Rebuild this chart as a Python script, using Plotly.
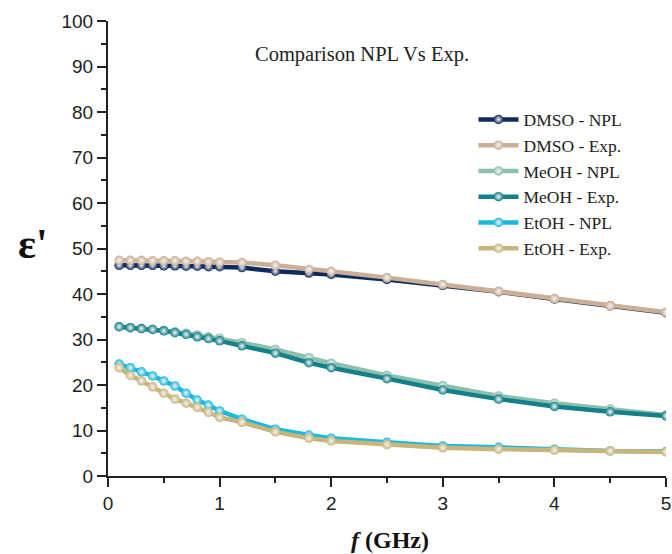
import plotly.graph_objects as go

freq = [0.1, 0.2, 0.3, 0.4, 0.5, 0.6, 0.7, 0.8, 0.9, 1.0,
        1.2, 1.5, 1.8, 2.0, 2.5, 3.0, 3.5, 4.0, 4.5, 5.0]

dmso_npl = [46.3, 46.3, 46.3, 46.3, 46.2, 46.2, 46.1, 46.1, 46.0, 46.0,
            45.8, 45.0, 44.6, 44.3, 43.2, 41.9, 40.5, 38.9, 37.4, 35.9]
dmso_exp = [47.4, 47.4, 47.4, 47.3, 47.3, 47.3, 47.2, 47.2, 47.1, 47.0,
            46.9, 46.3, 45.4, 45.0, 43.6, 42.1, 40.6, 39.0, 37.4, 36.0]
meoh_npl = [32.8, 32.6, 32.4, 32.2, 32.0, 31.7, 31.4, 31.0, 30.6, 30.3,
            29.3, 27.8, 26.0, 24.8, 22.1, 19.9, 17.6, 16.0, 14.7, 13.4]
meoh_exp = [32.8, 32.6, 32.4, 32.2, 31.9, 31.5, 31.1, 30.6, 30.2, 29.7,
            28.6, 27.0, 24.9, 23.8, 21.4, 18.9, 16.9, 15.3, 14.1, 13.2]
etoh_npl = [24.6, 23.8, 22.9, 22.0, 20.9, 19.8, 18.2, 16.7, 15.6, 14.3,
            12.5, 10.3, 9.0, 8.3, 7.4, 6.6, 6.3, 5.9, 5.5, 5.4]
etoh_exp = [23.8, 22.1, 20.9, 19.6, 18.2, 16.9, 16.0, 15.1, 14.0, 12.9,
            11.8, 9.7, 8.3, 7.7, 6.9, 6.2, 5.9, 5.7, 5.5, 5.3]

series = [
    ("DMSO - NPL", dmso_npl, "#0f2a5c"),
    ("DMSO - Exp.", dmso_exp, "#cbae96"),
    ("MeOH - NPL", meoh_npl, "#8dbfad"),
    ("MeOH - Exp.", meoh_exp, "#13808a"),
    ("EtOH - NPL", etoh_npl, "#1cb9de"),
    ("EtOH - Exp.", etoh_exp, "#c9b47c"),
]

fig = go.Figure()
for name, vals, col in series:
    fig.add_trace(go.Scatter(
        x=freq, y=vals, name=name, mode="lines+markers",
        line=dict(color=col, width=4.5),
        marker=dict(size=9.5, color=col,
                    gradient=dict(type="radial", color="#f4f4f4"),
                    line=dict(width=0)),
    ))

axis_common = dict(showline=True, linecolor="#222", linewidth=2,
                   ticks="outside", ticklen=9, tickwidth=2, tickcolor="#222",
                   showgrid=False, zeroline=False, ticklabeloverflow="allow",
                   automargin=False,
                   tickfont=dict(family="Liberation Sans", size=19, color="#222"))

fig.update_layout(
    width=672, height=554,
    margin=dict(l=108, r=6, t=21, b=78),
    plot_bgcolor="white", paper_bgcolor="white",
    showlegend=True,
    legend=dict(x=0.655, y=0.823, xanchor="left", yanchor="top",
                font=dict(family="Liberation Serif", size=17.5, color="#222"),
                bgcolor="rgba(0,0,0,0)", tracegroupgap=0, itemwidth=40),
    xaxis=dict(range=[0, 5], dtick=1,
               minor=dict(dtick=0.5, ticks="outside", ticklen=5, tickwidth=2, tickcolor="#222"),
               **axis_common),
    yaxis=dict(range=[0, 100], dtick=10,
               minor=dict(dtick=5, ticks="outside", ticklen=5, tickwidth=2, tickcolor="#222"),
               **axis_common),
)

fig.add_annotation(text="<b>ε'</b>", x=-0.135, y=0.51, xref="paper", yref="paper",
                   xanchor="center", yanchor="middle", showarrow=False,
                   font=dict(family="Liberation Serif", size=42, color="#111"))

fig.add_annotation(text="<b><i>f</i> (GHz)</b>", x=0.505, y=-0.141,
                   xref="paper", yref="paper", xanchor="center", yanchor="middle",
                   showarrow=False,
                   font=dict(family="Liberation Serif", size=24, color="#111"))

fig.add_annotation(text="Comparison NPL Vs Exp.", x=0.456, y=0.955,
                   xref="paper", yref="paper", showarrow=False,
                   font=dict(family="Liberation Serif", size=20.5, color="#222"))

fig.write_html("out.html")
